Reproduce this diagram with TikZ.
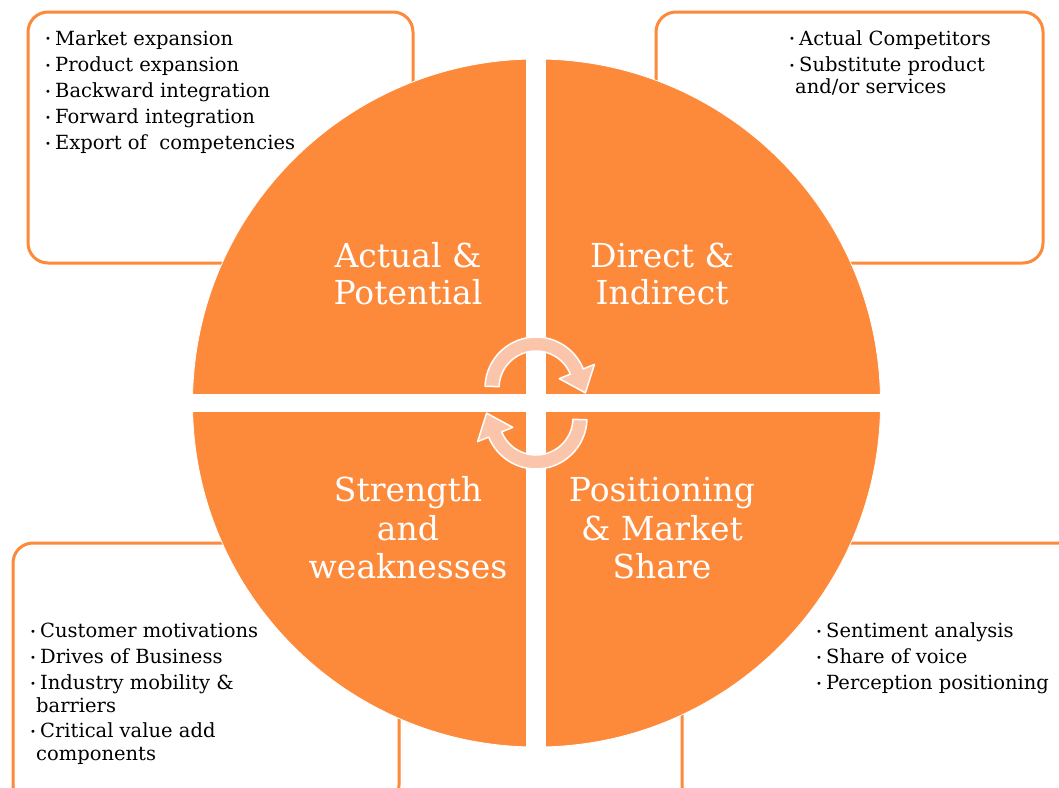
\documentclass[tikz,border=0pt]{standalone}
\usepackage{fontspec}
\setmainfont{DejaVu Serif}
\usetikzlibrary{calc}
\definecolor{org}{RGB}{253,137,58}
\definecolor{peach}{RGB}{251,197,172}
\newcommand{\bul}{\makebox[11pt][l]{\hspace*{1pt}\raisebox{2pt}{\fontsize{10}{10}\selectfont •}}}
\begin{document}
\begin{tikzpicture}[x=1pt,y=1pt,
  box/.style={draw=org, line width=3pt, rounded corners=20pt, fill=white},
  item/.style={anchor=base west, inner sep=0pt, font=\fontsize{19.5}{24}\selectfont, text=black},
  big/.style={anchor=base, inner sep=0pt, font=\fontsize{33}{38}\selectfont, text=white},
  arrowshape/.style={fill=peach, draw=white, line width=1.5pt, line join=round}]
\useasboundingbox (0,0) rectangle (1059,-787);
\clip (0,0) rectangle (1059,-787);
\fill[white] (0,0) rectangle (1059,-787);
% boxes
\draw[box] (28,-12) rectangle (413,-263);
\draw[box] (656,-12) rectangle (1043,-263);
\draw[box] (13,-543) rectangle (399,-805);
\draw[box] (682,-543) rectangle (1080,-805);
% disc
\node[circle, fill=org, draw=white, line width=0.8pt, minimum size=688pt, inner sep=0pt] (disc) at (536.5,-403) {};
\fill[white] (526,-50) rectangle (546,-760);
\fill[white] (180,-394) rectangle (895,-412);
% circular arrows
\coordinate (c1) at (536,-388);
\coordinate (c2) at (536,-418);
\draw[arrowshape] ($(c1)+(178:51)$) arc[start angle=178, end angle=22, radius=51]
  -- ($(c1)+(22:63)$) -- ($(c1)+(22:44)+(-68:23)$) -- ($(c1)+(22:25)$)
  -- ($(c1)+(22:37)$) arc[start angle=22, end angle=178, radius=37] -- cycle;
\draw[arrowshape] ($(c2)+(-2:51)$) arc[start angle=-2, end angle=-158, radius=51]
  -- ($(c2)+(-158:63)$) -- ($(c2)+(-158:44)+(112:23)$) -- ($(c2)+(-158:25)$)
  -- ($(c2)+(-158:37)$) arc[start angle=-158, end angle=-2, radius=37] -- cycle;
% quadrant labels
\node[big] (q1a) at (408,-267) {Actual \&};
\node[big] (q1b) at (408,-304) {Potential};
\node[big] (q2a) at (662,-267) {Direct \&};
\node[big] (q2b) at (662,-304) {Indirect};
\node[big] (q3a) at (408,-501) {Strength};
\node[big] (q3b) at (408,-540) {and};
\node[big] (q3c) at (408,-578) {weaknesses};
\node[big] (q4a) at (662,-501) {Positioning};
\node[big] (q4b) at (662,-540) {\& Market};
\node[big] (q4c) at (662,-578) {Share};
% top-left items
\node[item] (tl1) at (44,-45) {\bul Market expansion};
\node[item] (tl2) at (44,-71) {\bul Product expansion};
\node[item] (tl3) at (44,-97) {\bul Backward integration};
\node[item] (tl4) at (44,-123) {\bul Forward integration};
\node[item] (tl5) at (44,-149) {\bul Export of\ \ competencies};
% top-right items
\node[item] (tr1) at (788,-45) {\bul Actual Competitors};
\node[item] (tr2) at (788,-71) {\bul Substitute product};
\node[item] (tr3) at (795,-93) {and/or services};
% bottom-left items
\node[item] (bl1) at (29,-637) {\bul Customer motivations};
\node[item] (bl2) at (29,-663) {\bul Drives of Business};
\node[item] (bl3) at (29,-689) {\bul Industry mobility \&};
\node[item] (bl4) at (36,-712) {barriers};
\node[item] (bl5) at (29,-737) {\bul Critical value add};
\node[item] (bl6) at (36,-760) {components};
% bottom-right items
\node[item] (br1) at (815,-637) {\bul Sentiment analysis};
\node[item] (br2) at (815,-663) {\bul Share of voice};
\node[item] (br3) at (815,-689) {\bul Perception positioning};
\end{tikzpicture}
\end{document}
